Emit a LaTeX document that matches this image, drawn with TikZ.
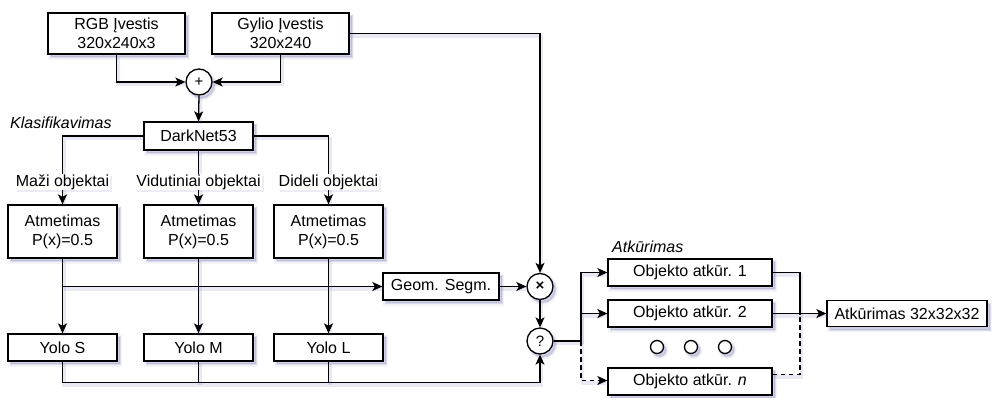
\documentclass[tikz,border=0pt]{standalone}
\usepackage{fontspec}
\setmainfont{Liberation Sans}
\usetikzlibrary{arrows.meta,shadows}
\definecolor{shadowcol}{RGB}{100,100,170}

\begin{document}
\begin{tikzpicture}[x=1pt,y=-1pt,
  font=\fontsize{16}{19}\selectfont,
  softshadow/.style={
    general shadow={draw=shadowcol, fill=shadowcol, line width=5pt, opacity=0.08,
                    shadow xshift=2.5pt, shadow yshift=-3pt},
    general shadow={draw=shadowcol, fill=shadowcol, line width=2pt, opacity=0.17,
                    shadow xshift=2.5pt, shadow yshift=-3pt}},
  box/.style={draw=black, fill=white, line width=1.3pt, inner sep=0pt,
              align=center, softshadow},
  op/.style={circle, draw=black, fill=white, line width=1.3pt, inner sep=0pt,
             minimum size=26pt, font=\fontsize{15}{17}\selectfont, softshadow},
  dotc/.style={circle, draw=black, fill=white, line width=1.3pt, inner sep=0pt,
               minimum size=13pt, softshadow},
  lbl/.style={fill=white, inner sep=1pt,
              general shadow={fill=shadowcol, opacity=0.12, shadow xshift=2pt, shadow yshift=-2pt}},
  grp/.style={font=\fontsize{16}{19}\selectfont\itshape, inner sep=0pt},
  ln/.style={line width=1.3pt, draw=black,
             preaction={draw=shadowcol, draw opacity=0.14, line width=3.5pt, arrows=-, solid,
                        transform canvas={shift={(1.5pt,-2.5pt)}}}},
  arr/.style={ln, -{Stealth[length=10pt, width=9pt, inset=2.5pt]}},
  dashline/.style={dash pattern=on 4.5pt off 3.5pt}
]
\useasboundingbox (0,0) rectangle (994,397);

% inputs and fusion
\node[box, minimum width=137pt, minimum height=41pt] (rgb) at (116.5,33.5) {RGB Įvestis\\320x240x3};
\node[box, minimum width=137pt, minimum height=41pt] (gylio) at (280.5,33.5) {Gylio Įvestis\\320x240};
\node[op] (plus) at (199,82) {+};

% backbone
\node[box, minimum width=109pt, minimum height=28pt] (dark) at (198.5,136) {DarkNet53};
\node[grp, anchor=base west] (klas) at (10,128) {Klasifikavimas};

% dropout per scale
\node[box, minimum width=109pt, minimum height=53pt] (atm1) at (62.5,231.5) {Atmetimas\\P(x)=0.5};
\node[box, minimum width=109pt, minimum height=53pt] (atm2) at (198.5,231.5) {Atmetimas\\P(x)=0.5};
\node[box, minimum width=109pt, minimum height=53pt] (atm3) at (328.5,231.5) {Atmetimas\\P(x)=0.5};

% detection heads
\node[box, minimum width=109pt, minimum height=27pt] (yolo1) at (62.5,347.5) {Yolo S};
\node[box, minimum width=109pt, minimum height=27pt] (yolo2) at (198.5,347.5) {Yolo M};
\node[box, minimum width=109pt, minimum height=27pt] (yolo3) at (328.5,347.5) {Yolo L};

% geometric segmentation and operators
\node[box, minimum width=116pt, minimum height=27pt] (geom) at (441,286.5) {Geom. Segm.};
\node[op] (times) at (540,286.5) {\textbf{×}};
\node[op] (q) at (540,341) {?};

% reconstruction
\node[grp, anchor=base west] (atkl) at (612,252) {Atkūrimas};
\node[box, minimum width=164pt, minimum height=27pt] (obj1) at (690,272.5) {Objekto atkūr. 1};
\node[box, minimum width=164pt, minimum height=27pt] (obj2) at (690,313.5) {Objekto atkūr. 2};
\node[box, minimum width=164pt, minimum height=27pt] (objn) at (690,381.5) {Objekto atkūr. \textit{n}};
\node[dotc] (d1) at (657,347) {};
\node[dotc] (d2) at (691,347) {};
\node[dotc] (d3) at (725,347) {};
\node[box, minimum width=160pt, minimum height=26pt] (atk) at (907,313.5) {Atkūrimas 32x32x32};

\coordinate (split) at (581,341);
\coordinate (merge) at (800,313.5);

% connectors: inputs
\draw[arr] (rgb.south) |- (plus.west);
\draw[arr] (gylio.south) |- (plus.east);
\draw[arr] (plus.south) -- (dark.north);
\draw[arr] (gylio.east) -| (times.north);

% connectors: scale branches
\draw[arr] (dark.west) -| (atm1.north);
\draw[arr] (dark.south) -- (atm2.north);
\draw[arr] (dark.east) -| (atm3.north);
\node[lbl] (lmaz) at (62.5,182) {Maži objektai};
\node[lbl] (lvid) at (198.5,182) {Vidutiniai objektai};
\node[lbl] (ldid) at (328.5,182) {Dideli objektai};

\draw[arr] (atm1.south) -- (yolo1.north);
\draw[arr] (atm2.south) -- (yolo2.north);
\draw[arr] (atm3.south) -- (yolo3.north);
\draw[arr] (atm1.south |- geom.west) -- (geom.west);
\draw[arr] (geom.east) -- (times.west);
\draw[arr] (times.south) -- (q.north);

% heads to the selector
\draw[arr] (yolo1.south) -- ++(0,21) -| (q.south);
\draw[ln] (yolo2.south) -- ++(0,21);
\draw[ln] (yolo3.south) -- ++(0,21);

% selector to per-object reconstruction
\draw[ln] (q.east) -- (split);
\draw[arr] (split) |- (obj1.west);
\draw[arr] (split) |- (obj2.west);
\draw[arr, dashline] (split) |- ([yshift=1pt]objn.west);
\draw[ln] (obj1.east) -| (merge);
\draw[ln, dashline] ([yshift=7pt]objn.east) -| (merge);
\draw[arr] (obj2.east) -- (atk.west);
\end{tikzpicture}
\end{document}
